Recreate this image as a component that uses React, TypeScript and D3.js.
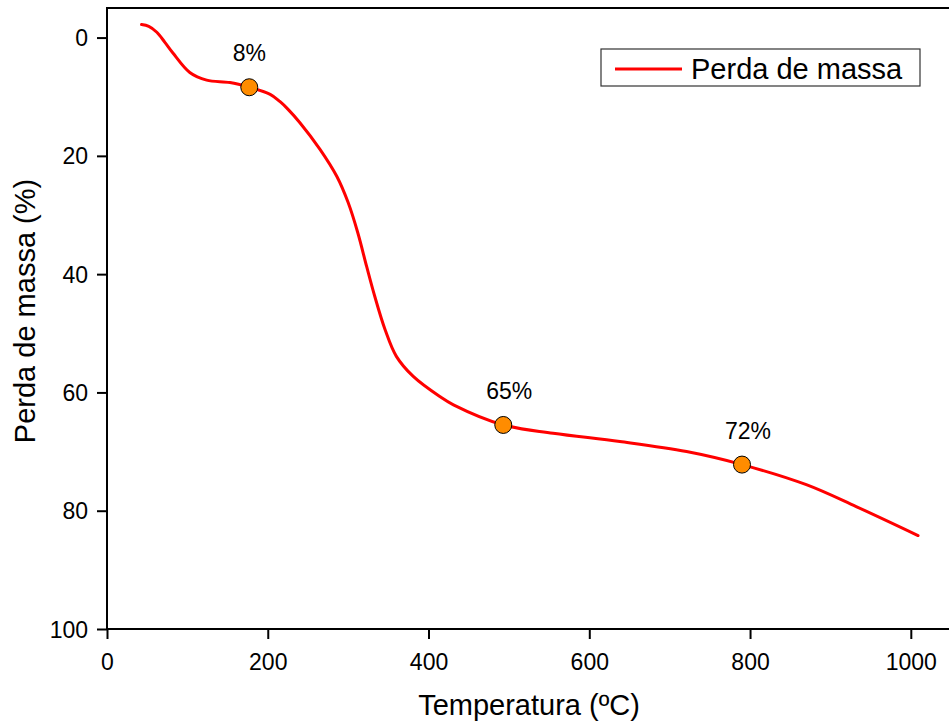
import { useEffect, useRef } from "react";
import * as d3 from "d3";

const temperature = [43, 52, 62, 72, 82, 103, 124, 153, 177, 203, 215, 225, 240, 265, 286, 300, 312, 323, 333, 346, 360, 381, 414, 431, 493, 555, 638, 721, 790, 870, 932, 1009];
const massLoss = [-2.2, -1.9, -0.9, 0.8, 2.6, 5.9, 7.2, 7.6, 8.4, 9.6, 10.8, 12.1, 14.4, 18.9, 23.5, 27.9, 33, 38.7, 43.7, 49.4, 53.9, 57.3, 60.7, 62.1, 65.5, 66.9, 68.3, 70, 72.2, 75.6, 79.3, 84.2];

const markTemps = [177, 493, 790];
const markValues = [8.4, 65.5, 72.2];
const markLabels = ["8%", "65%", "72%"];

const xTicks = [0, 200, 400, 600, 800, 1000];
const yTicks = [0, 20, 40, 60, 80, 100];

const FONT = "Liberation Sans, Arial, sans-serif";

const App = () => {
    const svgRef: any = useRef<SVGSVGElement>(null);

    useEffect(() => {
        const WIDTH = 949;
        const HEIGHT = 726;
        const left = 107, right = 951, top = 8, bottom = 629;

        const svg = d3.select(svgRef.current);
        svg.selectAll("*").remove();

        const x = d3.scaleLinear().domain([0, 1050]).range([left, right]);
        const y = d3.scaleLinear().domain([-5, 100]).range([top, bottom]);

        // frame
        svg.append("rect")
            .attr("x", left).attr("y", top)
            .attr("width", right - left).attr("height", bottom - top)
            .attr("fill", "none").attr("stroke", "black").attr("stroke-width", 2);

        // x axis
        const xAxis = svg.append("g").attr("transform", `translate(0,${bottom})`);
        xAxis.call(d3.axisBottom(x).tickValues(d3.range(0, 1050, 100)).tickSize(5).tickFormat(() => ""));
        xAxis.call(d3.axisBottom(x).tickValues(xTicks).tickSize(10).tickFormat(d3.format("d")));
        xAxis.selectAll(".domain").remove();
        xAxis.selectAll("line").attr("stroke", "black").attr("stroke-width", 2);
        xAxis.selectAll("text")
            .attr("font-family", FONT).attr("font-size", 23).attr("fill", "black")
            .attr("y", 0).attr("dy", 41);

        // y axis
        const yAxis = svg.append("g").attr("transform", `translate(${left},0)`);
        yAxis.call(d3.axisLeft(y).tickValues(d3.range(0, 101, 10)).tickSize(5).tickFormat(() => ""));
        yAxis.call(d3.axisLeft(y).tickValues(yTicks).tickSize(10).tickFormat(d3.format("d")));
        yAxis.selectAll(".domain").remove();
        yAxis.selectAll("line").attr("stroke", "black").attr("stroke-width", 2);
        yAxis.selectAll("text")
            .attr("font-family", FONT).attr("font-size", 23).attr("fill", "black")
            .attr("x", -19).attr("dy", "0.35em");

        // titles
        svg.append("text")
            .attr("x", (left + right) / 2).attr("y", 715)
            .attr("text-anchor", "middle")
            .attr("font-family", FONT).attr("font-size", 29)
            .text("Temperatura (ºC)");

        svg.append("text")
            .attr("transform", `translate(35,${311}) rotate(-90)`)
            .attr("text-anchor", "middle")
            .attr("font-family", FONT).attr("font-size", 29)
            .text("Perda de massa (%)");

        // curve
        const data = temperature.map((t, i) => [t, massLoss[i]] as [number, number]);
        const line = d3.line<[number, number]>()
            .x(d => x(d[0])).y(d => y(d[1]))
            .curve(d3.curveCatmullRom.alpha(0.5));

        svg.append("path")
            .datum(data)
            .attr("d", line)
            .attr("fill", "none")
            .attr("stroke", "#ff0000")
            .attr("stroke-width", 3)
            .attr("stroke-linecap", "round");

        // markers
        const marks = markTemps.map((t, i) => ({ t, v: markValues[i], label: markLabels[i] }));
        svg.selectAll("circle.mark")
            .data(marks)
            .join("circle")
            .attr("class", "mark")
            .attr("cx", d => x(d.t)).attr("cy", d => y(d.v))
            .attr("r", 8.5)
            .attr("fill", "#ff8c00")
            .attr("stroke", "black").attr("stroke-width", 1);

        svg.selectAll("text.mlabel")
            .data(marks)
            .join("text")
            .attr("class", "mlabel")
            .attr("x", (d, i) => x(d.t) + (i === 0 ? 0 : 6))
            .attr("y", d => y(d.v) - 26)
            .attr("text-anchor", "middle")
            .attr("font-family", FONT).attr("font-size", 23)
            .text(d => d.label);

        // legend
        const lg = svg.append("g");
        lg.append("rect")
            .attr("x", 601).attr("y", 49).attr("width", 319).attr("height", 37)
            .attr("fill", "white").attr("stroke", "#333").attr("stroke-width", 1.2);
        lg.append("line")
            .attr("x1", 615).attr("x2", 682).attr("y1", 69).attr("y2", 69)
            .attr("stroke", "#ff0000").attr("stroke-width", 3);
        lg.append("text")
            .attr("x", 691).attr("y", 79)
            .attr("font-family", FONT).attr("font-size", 29)
            .text("Perda de massa");

        svg.attr("width", WIDTH).attr("height", HEIGHT);
    }, []);

    return (
        <svg
            ref={svgRef}
            width={949}
            height={726}
            style={{ position: "absolute", left: 0, top: 0, background: "white" }}
        />
    );
};

export default App;
